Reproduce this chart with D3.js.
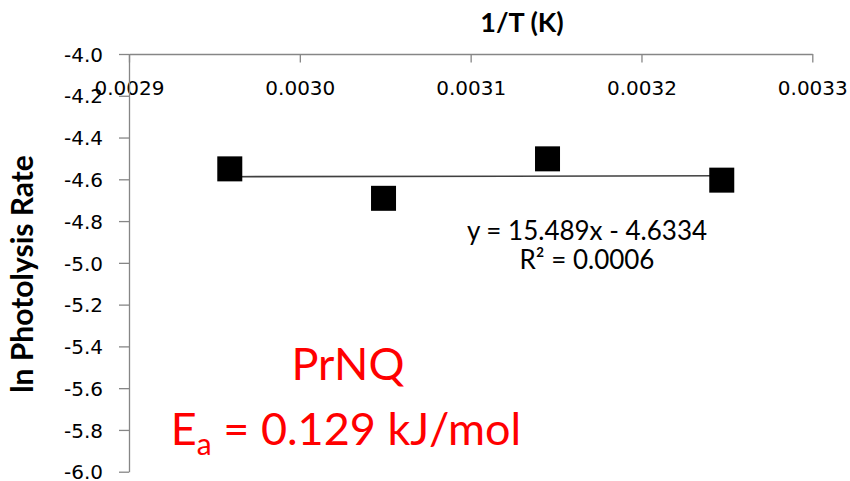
<!DOCTYPE html>
<html>
<head>
<meta charset="utf-8">
<script src="https://cdn.jsdelivr.net/npm/d3@7"></script>
<style>
  html, body { margin: 0; padding: 0; background: #fff; }
  svg { display: block; }
</style>
</head>
<body>
<svg id="chart" width="850" height="481"></svg>
<script>
// ---- data ----
const invT = [0.002959, 0.003049, 0.003145, 0.003247];
const lnRate = [-4.550, -4.691, -4.502, -4.604];
const xTicks = [0.0029, 0.0030, 0.0031, 0.0032, 0.0033];
const yTicks = [-4.0, -4.2, -4.4, -4.6, -4.8, -5.0, -5.2, -5.4, -5.6, -5.8, -6.0];
const trendSlope = 15.489;
const trendIntercept = -4.6334;
const equationText = "y = 15.489x - 4.6334";
const r2Value = "0.0006";
const xTitle = "1/T (K)";
const yTitle = "ln Photolysis Rate";
const compound = "PrNQ";
const eaValue = "0.129 kJ/mol";

// ---- layout ----
const svg = d3.select("#chart");
const plotL = 129, plotR = 812.3, plotT = 54, plotB = 471.7;
const axisColor = "#868686";
const calibri = "Lato, 'Open Sans', sans-serif";
const tickFont = "'DejaVu Sans', Verdana, sans-serif";
const hyphenFmt = f => d => f(d).replace("\u2212", "-");

const x = d3.scaleLinear().domain([0.0029, 0.0033]).range([plotL, plotR]);
const y = d3.scaleLinear().domain([-6, -4]).range([plotB, plotT]);

// X axis on top, ticks pointing down
const xAxis = svg.append("g")
  .attr("transform", `translate(0,${plotT})`)
  .call(d3.axisBottom(x).tickValues(xTicks).tickSize(8.5).tickSizeOuter(0)
        .tickFormat(hyphenFmt(d3.format(".4f"))));
xAxis.select(".domain").attr("stroke", axisColor).attr("stroke-width", 1.3);
xAxis.selectAll(".tick line").attr("stroke", axisColor).attr("stroke-width", 1.3);
xAxis.selectAll(".tick text")
  .attr("y", 41).attr("dy", 0)
  .attr("fill", "#000")
  .style("font-family", tickFont).style("font-size", "20px");

// Y axis
const yAxis = svg.append("g")
  .attr("transform", `translate(${plotL},0)`)
  .call(d3.axisLeft(y).tickValues(yTicks).tickSize(10).tickSizeOuter(0)
        .tickFormat(hyphenFmt(d3.format(".1f"))));
yAxis.select(".domain").attr("stroke", axisColor).attr("stroke-width", 1.3);
yAxis.selectAll(".tick line").attr("stroke", axisColor).attr("stroke-width", 1.3);
yAxis.selectAll(".tick text")
  .attr("x", -26).attr("dy", "0.36em")
  .attr("fill", "#000")
  .style("font-family", tickFont).style("font-size", "20px");

// Axis titles
svg.append("text")
  .attr("x", 522).attr("y", 32)
  .attr("text-anchor", "middle")
  .style("font-family", calibri).style("font-weight", "bold").style("font-size", "27px")
  .text(xTitle);

svg.append("text")
  .attr("transform", `translate(33,274) rotate(-90)`)
  .attr("text-anchor", "middle")
  .style("font-family", calibri).style("font-weight", "bold").style("font-size", "30px")
  .text(yTitle);

// Trendline
const xMin = d3.min(invT), xMax = d3.max(invT);
svg.append("line")
  .attr("x1", x(xMin)).attr("y1", y(trendSlope * xMin + trendIntercept))
  .attr("x2", x(xMax)).attr("y2", y(trendSlope * xMax + trendIntercept))
  .attr("stroke", "#404040").attr("stroke-width", 1.6);

// Markers
const s = 25;
svg.selectAll("rect.pt")
  .data(invT.map((d, i) => ({ x: d, y: lnRate[i] })))
  .join("rect")
  .attr("class", "pt")
  .attr("x", d => x(d.x) - s / 2)
  .attr("y", d => y(d.y) - s / 2)
  .attr("width", s).attr("height", s)
  .attr("fill", "#000");

// Equation
svg.append("text")
  .attr("x", 587).attr("y", 240)
  .attr("text-anchor", "middle")
  .style("font-family", calibri).style("font-size", "26px")
  .text(equationText);
const r2 = svg.append("text")
  .attr("x", 587).attr("y", 269)
  .attr("text-anchor", "middle")
  .style("font-family", calibri).style("font-size", "26px");
r2.append("tspan").text("R² = " + r2Value);

// Red annotation
svg.append("text")
  .attr("x", 348).attr("y", 380)
  .attr("text-anchor", "middle")
  .attr("fill", "#ff0000")
  .style("font-family", calibri).style("font-size", "45px")
  .text(compound);
const ea = svg.append("text")
  .attr("x", 346).attr("y", 445)
  .attr("text-anchor", "middle")
  .attr("fill", "#ff0000")
  .style("font-family", calibri).style("font-size", "45px");
ea.append("tspan").text("E");
ea.append("tspan").attr("dy", 10).style("font-size", "30px").text("a");
ea.append("tspan").attr("dy", -10).text(" = " + eaValue);
</script>
</body>
</html>
